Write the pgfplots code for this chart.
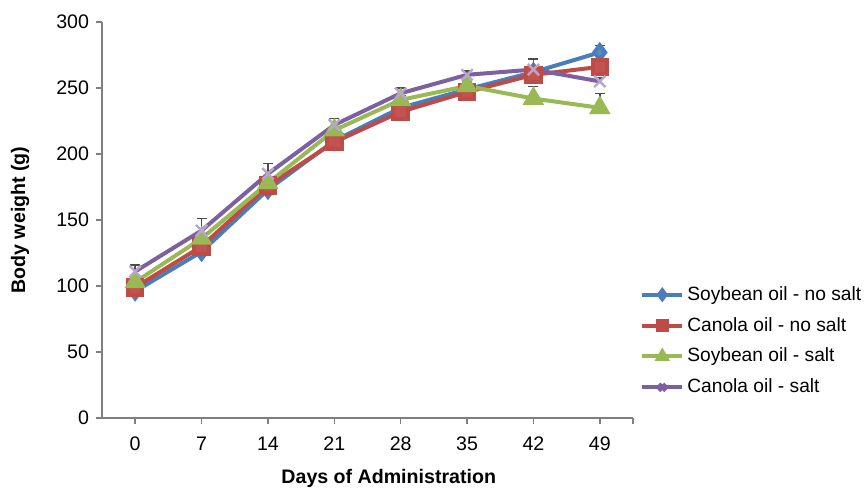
\documentclass[border=0pt]{standalone}
\usepackage{pgfplots}
\pgfplotsset{compat=1.18}
\usepackage{fontspec}
\setmainfont{Liberation Sans}

\definecolor{cBlue}{HTML}{4A7EBB}
\definecolor{cRed}{HTML}{BE4B48}
\definecolor{cGreen}{HTML}{98B954}
\definecolor{cPurple}{HTML}{7D60A0}
\definecolor{axisgray}{HTML}{7F7F7F}

\begin{document}
\begin{tikzpicture}
\useasboundingbox (-51bp,-35bp) rectangle (381.5bp,209bp);
\begin{axis}[
  scale only axis,
  width=265.5bp, height=198bp,
  xmin=-3.5, xmax=52.5,
  ymin=0, ymax=300,
  xtick={0,7,...,49},
  ytick={0,50,...,300},
  extra x ticks={52.5},
  extra x tick labels={},
  axis x line*=bottom,
  axis y line*=left,
  axis line style={axisgray, line width=0.8bp},
  tick style={axisgray, line width=0.8bp},
  tick align=outside,
  major tick length=3bp,
  /pgf/number format/assume math mode=true,
  ticklabel style={font=\fontsize{9.8bp}{11bp}\selectfont},
  xticklabel style={yshift=-3bp},
  xlabel={\textbf{Days of Administration}},
  ylabel={\textbf{Body weight (g)}},
  label style={font=\fontsize{9.8bp}{11bp}\selectfont},
  xlabel style={at={(axis description cs:0.54,-0.152)}, anchor=center},
  ylabel style={at={(axis description cs:-0.154,0.5)}, anchor=center},
  clip=false,
  legend style={
    at={(1.013,0.045)}, anchor=south west,
    draw=none, fill=none, inner sep=0pt,
    font=\fontsize{9.6bp}{11.5bp}\selectfont,
    row sep=3bp,
    cells={anchor=west},
    nodes={inner xsep=1.5bp},
  },
  legend image code/.code={
    \draw[mark repeat=2,mark phase=2, mark options={scale=0.6}] plot coordinates {(0bp,0bp)(10bp,0bp)(20bp,0bp)};
  },
  every axis plot/.append style={line width=2bp},
  error bars/y dir=plus,
  error bars/y explicit,
  error bars/error bar style={black!70, line width=0.7bp},
  error bars/error mark options={rotate=90, black!70, mark size=2.5bp, line width=0.7bp},
]
% Soybean oil - no salt
\addplot[color=cBlue, mark=diamond*, mark size=3.6bp, mark options={fill=cBlue!90!white, solid}]
  coordinates {
  (0,96) +- (0,2) (7,126) +- (0,2) (14,173) +- (0,2) (21,210) +- (0,2)
  (28,235) +- (0,2) (35,249) +- (0,2) (42,262) +- (0,2) (49,277) +- (0,5)
};
% Canola oil - no salt
\addplot[color=cRed, mark=square*, mark size=3.6bp, mark options={fill=cRed!95!white, solid}]
  coordinates {
  (0,99) +- (0,2) (7,130) +- (0,2) (14,176) +- (0,2) (21,209) +- (0,2)
  (28,232) +- (0,2) (35,247) +- (0,2) (42,260) +- (0,3) (49,266) +- (0,3)
};
% Soybean oil - salt
\addplot[color=cGreen, mark=triangle*, mark size=4.2bp, mark options={fill=cGreen, solid}]
  coordinates {
  (0,103) +- (0,3) (7,136) +- (0,4) (14,178) +- (0,4) (21,218) +- (0,3)
  (28,241) +- (0,3) (35,251.5) +- (0,3) (42,242) +- (0,9) (49,235) +- (0,11)
};
% Canola oil - salt
\addplot[color=cPurple, mark=x, mark size=4bp, mark options={draw=cPurple!55!white, line width=1.2bp, solid}]
  coordinates {
  (0,111) +- (0,5) (7,142) +- (0,9) (14,185) +- (0,8) (21,222) +- (0,5)
  (28,246) +- (0,4) (35,260) +- (0,3) (42,264) +- (0,8) (49,255) +- (0,3)
};
\legend{Soybean oil - no salt, Canola oil - no salt, Soybean oil - salt, Canola oil - salt}
\end{axis}
\end{tikzpicture}
\end{document}
